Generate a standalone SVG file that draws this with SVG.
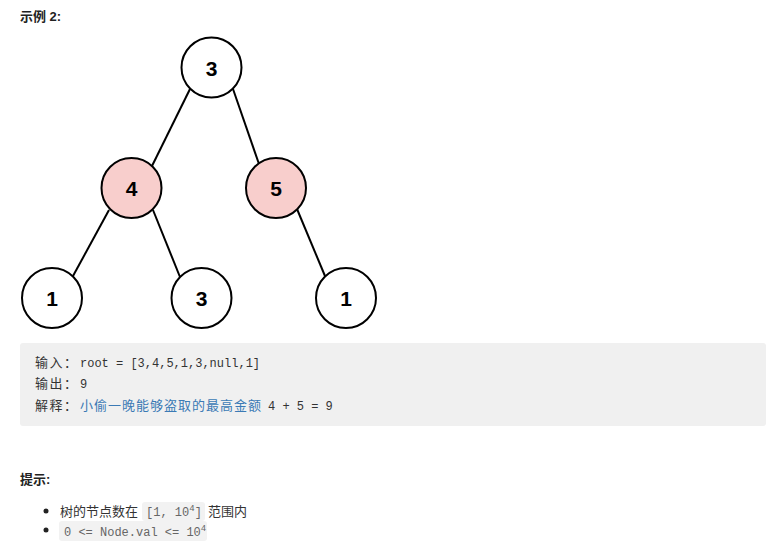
<svg xmlns="http://www.w3.org/2000/svg" width="772" height="544" viewBox="0 0 772 544">
<style>
.node circle{stroke:#000;stroke-width:2;fill:#fff}
.node.hl circle{fill:#f8cecc}
.node text{font-family:"Liberation Sans",Arial,sans-serif;font-size:21px;font-weight:bold;text-anchor:middle;fill:#000}
#edges line{stroke:#000;stroke-width:2}
.h{font-family:"Liberation Sans","Noto Sans CJK SC",sans-serif;font-size:13px;font-weight:bold;fill:#222}
.mono{font-family:"Liberation Mono","Noto Sans CJK SC",monospace;font-size:12px;fill:#333}
.cjk{font-family:"Noto Sans CJK SC",sans-serif;font-size:13px}
.body{font-family:"Noto Sans CJK SC",sans-serif;font-size:13px;fill:#333}
.code{font-family:"Liberation Mono",monospace;font-size:12px;fill:#666}
.cbg{fill:#f2f2f2}
</style>
<rect width="772" height="544" fill="#fff"/>
<text class="h" x="20" y="21">示例 2:</text>
<g id="edges">
<line x1="190" y1="89" x2="152" y2="166"/>
<line x1="233" y1="89" x2="259" y2="164"/>
<line x1="109" y1="210" x2="73" y2="276"/>
<line x1="153" y1="210" x2="180" y2="277"/>
<line x1="297" y1="209" x2="325" y2="276"/>
</g>
<g id="n3" class="node"><circle cx="211.5" cy="67.5" r="30"/><text x="211.5" y="75.5">3</text></g>
<g id="n4" class="node hl"><circle cx="131.5" cy="188" r="30"/><text x="131.5" y="196">4</text></g>
<g id="n5" class="node hl"><circle cx="276" cy="188" r="30"/><text x="276" y="196">5</text></g>
<g id="n1a" class="node"><circle cx="52" cy="298" r="30"/><text x="52" y="306">1</text></g>
<g id="n3b" class="node"><circle cx="201.5" cy="298" r="30"/><text x="201.5" y="306">3</text></g>
<g id="n1b" class="node"><circle cx="346" cy="298" r="30"/><text x="346" y="306">1</text></g>
<rect x="20" y="343" width="746" height="83" rx="3" fill="#f0f0f0"/>
<text class="mono" x="35" y="367"><tspan class="cjk" letter-spacing="1.5">输入：</tspan><tspan x="80">root = [3,4,5,1,3,null,1]</tspan></text>
<text class="mono" x="35" y="388"><tspan class="cjk" letter-spacing="1.5">输出：</tspan><tspan x="80">9</tspan></text>
<text class="mono" x="35" y="410"><tspan class="cjk" letter-spacing="1.5">解释：</tspan><tspan x="80" class="cjk" fill="#3b7ab5" letter-spacing="1">小偷一晚能够盗取的最高金额</tspan><tspan x="268">4 + 5 = 9</tspan></text>
<text class="h" x="20" y="484">提示:</text>
<circle cx="46" cy="511" r="2.5" fill="#222"/>
<circle cx="46" cy="530" r="2.5" fill="#222"/>
<text class="body" x="60" y="516">树的节点数在</text>
<rect class="cbg" x="142" y="502" width="63" height="19" rx="3"/>
<text class="code" x="146" y="516">[1, 10<tspan font-size="9" dy="-5">4</tspan><tspan dy="5">]</tspan></text>
<text class="body" x="208" y="516">范围内</text>
<rect class="cbg" x="59" y="521" width="148" height="20" rx="3"/>
<text class="code" x="64" y="536">0 &lt;= Node.val &lt;= 10<tspan font-size="9" dy="-5">4</tspan></text>
</svg>
